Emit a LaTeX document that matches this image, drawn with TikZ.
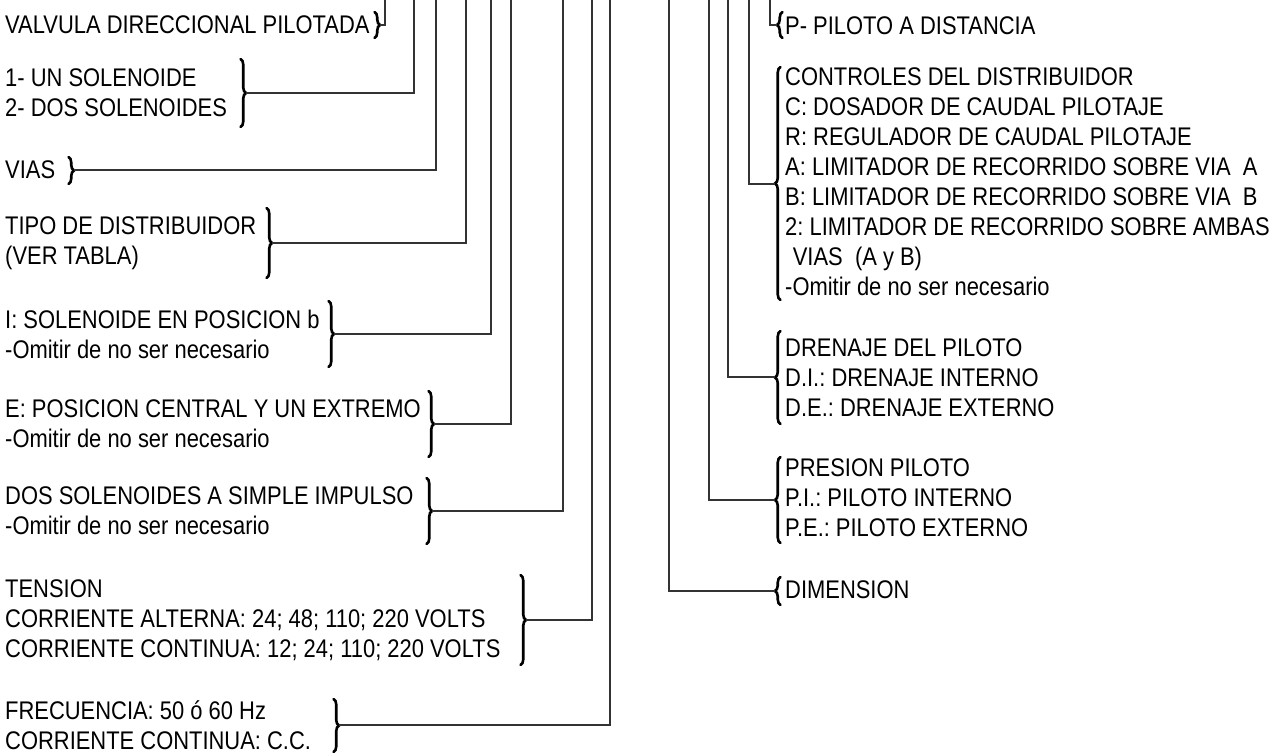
\documentclass[tikz,border=0pt]{standalone}
\usepackage{fontspec}
\setmainfont{Liberation Sans}[FakeStretch=0.86]
\usetikzlibrary{decorations.pathreplacing}
\begin{document}
\frenchspacing
\begin{tikzpicture}[x=1pt,y=-1pt,
  lbl/.style={anchor=west,inner sep=0pt,align=left,font=\fontsize{25.5}{30}\selectfont\frenchspacing},
  brc/.style={decorate,decoration={brace,amplitude=5.5pt},line width=2.6pt,line cap=round},
  conn/.style={draw=black!80,line width=1.1pt}]
\useasboundingbox (0,0) rectangle (1283,753);
% ---------- left column ----------
\node[lbl] (l1) at (5,25) {VALVULA DIRECCIONAL PILOTADA};
\node[lbl] (l2) at (5,93) {1- UN SOLENOIDE\\2- DOS SOLENOIDES};
\node[lbl] (l3) at (5,170) {VIAS};
\node[lbl] (l4) at (5,243) {TIPO DE DISTRIBUIDOR\\(VER TABLA)};
\node[lbl] (l5) at (5,334) {I: SOLENOIDE EN POSICION b\\-Omitir de no ser necesario};
\node[lbl] (l6) at (5,424) {E: POSICION CENTRAL Y UN EXTREMO\\-Omitir de no ser necesario};
\node[lbl] (l7) at (5,511) {DOS SOLENOIDES A SIMPLE IMPULSO\\-Omitir de no ser necesario};
\node[lbl] (l8) at (5,620) {TENSION\\CORRIENTE ALTERNA: 24; 48; 110; 220 VOLTS\\CORRIENTE CONTINUA: 12; 24; 110; 220 VOLTS};
\node[lbl] (l9) at (5,725) {FRECUENCIA: 50 ó 60 Hz\\CORRIENTE CONTINUA: C.C.};
% left braces
\draw[brc] (374.5,12) -- (374.5,38);
\draw[brc] (240.5,59) -- (240.5,127);
\draw[brc] (68.5,157) -- (68.5,184);
\draw[brc] (266.5,208) -- (266.5,278);
\draw[brc] (328.5,301) -- (328.5,367);
\draw[brc] (428.5,391) -- (428.5,457);
\draw[brc] (426.5,478) -- (426.5,544);
\draw[brc] (520.5,575) -- (520.5,665);
\draw[brc] (333.5,699) -- (333.5,752);
\coordinate (bl1) at (380,25);
\coordinate (bl2) at (246,93);
\coordinate (bl3) at (74,170);
\coordinate (bl4) at (272,243);
\coordinate (bl5) at (334,334);
\coordinate (bl6) at (434,424);
\coordinate (bl7) at (432,511);
\coordinate (bl8) at (526,620);
\coordinate (bl9) at (339,725);
\coordinate (tl1) at (385,0);
\coordinate (tl2) at (414,0);
\coordinate (tl3) at (436,0);
\coordinate (tl4) at (466,0);
\coordinate (tl5) at (491,0);
\coordinate (tl6) at (511,0);
\coordinate (tl7) at (563,0);
\coordinate (tl8) at (592,0);
\coordinate (tl9) at (610,0);
\foreach \i in {1,...,9} {\draw[conn] (bl\i) -| (tl\i);}
% ---------- right column ----------
\node[lbl] (r1) at (785,26) {P- PILOTO A DISTANCIA};
\node[lbl] (r2) at (785,182) {CONTROLES DEL DISTRIBUIDOR\\C: DOSADOR DE CAUDAL PILOTAJE\\R: REGULADOR DE CAUDAL PILOTAJE\\A: LIMITADOR DE RECORRIDO SOBRE VIA\ \ A\\B: LIMITADOR DE RECORRIDO SOBRE VIA\ \ B\\2: LIMITADOR DE RECORRIDO SOBRE AMBAS\\\hspace*{0.3em}VIAS\ \ (A y B)\\-Omitir de no ser necesario};
\node[lbl] (r3) at (785,378) {DRENAJE DEL PILOTO\\D.I.: DRENAJE INTERNO\\D.E.: DRENAJE EXTERNO};
\node[lbl] (r4) at (785,498) {PRESION PILOTO\\P.I.: PILOTO INTERNO\\P.E.: PILOTO EXTERNO};
\node[lbl] (r5) at (785,590) {DIMENSION};
% right braces
\draw[brc] (782.5,38) -- (782.5,12);
\draw[brc] (780.5,300) -- (780.5,67);
\draw[brc] (780.5,424) -- (780.5,331);
\draw[brc] (780.5,543) -- (780.5,457);
\draw[brc] (780.5,605) -- (780.5,577);
\coordinate (br1) at (777,25);
\coordinate (br2) at (775,184);
\coordinate (br3) at (775,377);
\coordinate (br4) at (775,500);
\coordinate (br5) at (775,591);
\coordinate (tr1) at (770,0);
\coordinate (tr2) at (749,0);
\coordinate (tr3) at (728,0);
\coordinate (tr4) at (709,0);
\coordinate (tr5) at (669,0);
\foreach \i in {1,...,5} {\draw[conn] (br\i) -| (tr\i);}
\end{tikzpicture}
\end{document}
